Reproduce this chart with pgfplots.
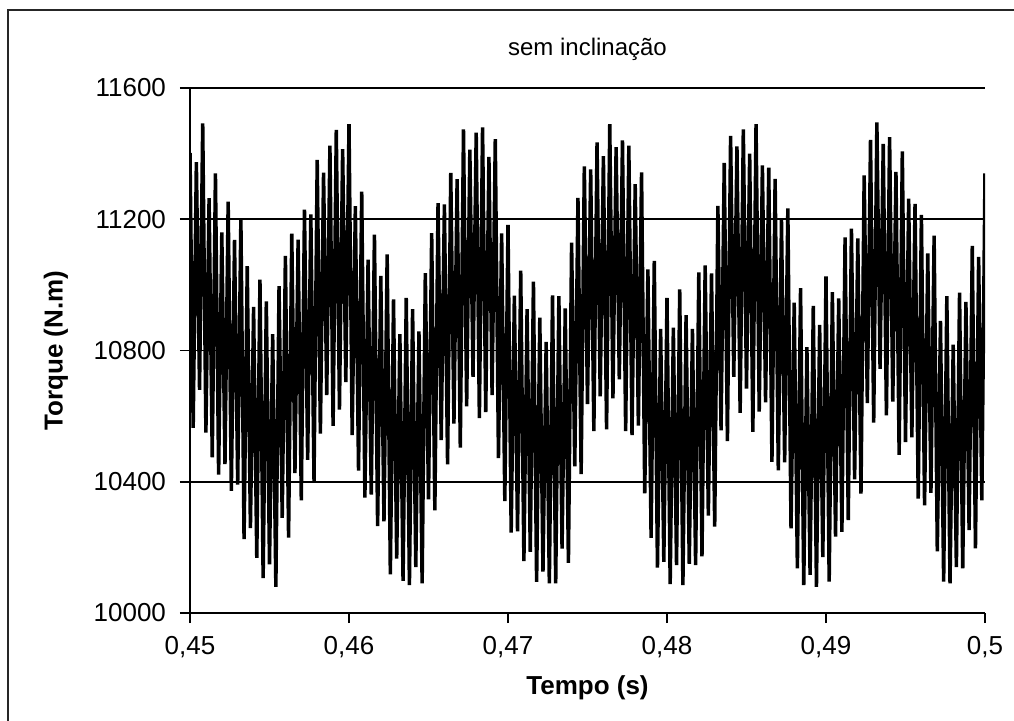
\documentclass[border=0pt]{standalone}
\usepackage{fontspec}
\setmainfont{Liberation Sans}
\usepackage{pgfplots}
\pgfplotsset{compat=1.18}
\begin{document}
\begin{tikzpicture}[x=1pt,y=1pt]
\useasboundingbox (0,0) rectangle (507,360);
\draw[line width=1.4pt, black!85] (4,-10) -- (4,355) -- (520,355);
\begin{axis}[at={(95pt,53.5pt)}, anchor=south west, scale only axis,
 width=397.5pt, height=262.5pt,
 xmin=0.45, xmax=0.5, ymin=10000, ymax=11600,
 xtick={0.45,0.46,0.47,0.48,0.49,0.5},
 ytick={10000,10400,10800,11200,11600},
 axis lines=left, axis line style={-, line width=0.9pt},
 ymajorgrids, major grid style={black, line width=0.9pt},
 tick align=outside, major tick length=5pt, tick style={black, line width=0.8pt},
 scaled ticks=false,
 /pgf/number format/assume math mode=true,
 xticklabel style={/pgf/number format/use comma, /pgf/number format/fixed, /pgf/number format/precision=2, yshift=-3pt},
 yticklabel style={/pgf/number format/1000 sep={}, xshift=-3.5pt},
 ticklabel style={font=\fontsize{13}{15}\selectfont},
 title={\fontsize{12}{14}\selectfont sem inclinação},
 title style={at={(axis description cs:0.5,1.0152)}, anchor=south},
 xlabel={Tempo (s)}, ylabel={Torque (N.m)},
 label style={font=\bfseries\fontsize{13}{15}\selectfont},
 xlabel style={at={(axis description cs:0.5,-0.1429)}, anchor=center},
 ylabel style={at={(axis description cs:-0.1686,0.5)}, anchor=center},
]
\addplot[black, line width=1.75pt, line join=bevel] table {
0.4500 11402
0.4502 10564
0.4504 11374
0.4506 10680
0.4508 11492
0.4510 10550
0.4512 11264
0.4514 10474
0.4516 11340
0.4518 10422
0.4520 11160
0.4522 10454
0.4524 11254
0.4526 10372
0.4528 11137
0.4530 10391
0.4532 11203
0.4534 10225
0.4536 11057
0.4538 10259
0.4540 10933
0.4542 10168
0.4544 11016
0.4546 10106
0.4548 10950
0.4550 10148
0.4552 10850
0.4554 10080
0.4556 10996
0.4558 10290
0.4560 11088
0.4562 10230
0.4564 11156
0.4566 10426
0.4568 11138
0.4570 10343
0.4572 11229
0.4574 10467
0.4576 11215
0.4578 10403
0.4580 11381
0.4582 10547
0.4584 11342
0.4586 10664
0.4588 11424
0.4590 10570
0.4592 11472
0.4594 10620
0.4596 11414
0.4598 10704
0.4600 11490
0.4602 10542
0.4604 11240
0.4606 10434
0.4608 11284
0.4610 10352
0.4612 11077
0.4614 10361
0.4616 11153
0.4618 10265
0.4620 11027
0.4622 10279
0.4624 11093
0.4626 10118
0.4628 10956
0.4630 10166
0.4632 10850
0.4634 10098
0.4636 10960
0.4638 10085
0.4640 10926
0.4642 10140
0.4644 10858
0.4646 10090
0.4648 11036
0.4650 10346
0.4652 11158
0.4654 10313
0.4656 11249
0.4658 10527
0.4660 11245
0.4662 10453
0.4664 11341
0.4666 10577
0.4668 11322
0.4670 10504
0.4672 11474
0.4674 10630
0.4676 11412
0.4678 10720
0.4680 11464
0.4682 10594
0.4684 11480
0.4686 10612
0.4688 11390
0.4690 10664
0.4692 11444
0.4694 10472
0.4696 11157
0.4698 10341
0.4700 11183
0.4702 10245
0.4704 10967
0.4706 10249
0.4708 11043
0.4710 10158
0.4712 10926
0.4714 10186
0.4716 11010
0.4718 10095
0.4720 10900
0.4722 10126
0.4724 10826
0.4726 10090
0.4728 10968
0.4730 10090
0.4732 10966
0.4734 10196
0.4736 10928
0.4738 10153
0.4740 11129
0.4742 10447
0.4744 11265
0.4746 10423
0.4748 11361
0.4750 10637
0.4752 11352
0.4754 10554
0.4756 11434
0.4758 10660
0.4760 11392
0.4762 10560
0.4764 11490
0.4766 10654
0.4768 11420
0.4770 10712
0.4772 11440
0.4774 10554
0.4776 11424
0.4778 10542
0.4780 11307
0.4782 10571
0.4784 11343
0.4786 10365
0.4788 11047
0.4790 10229
0.4792 11073
0.4794 10138
0.4796 10866
0.4798 10156
0.4800 10960
0.4802 10088
0.4804 10870
0.4806 10146
0.4808 10986
0.4810 10085
0.4812 10908
0.4814 10150
0.4816 10866
0.4818 10146
0.4820 11038
0.4822 10173
0.4824 11059
0.4826 10297
0.4828 11035
0.4830 10263
0.4832 11241
0.4834 10557
0.4836 11372
0.4838 10524
0.4840 11454
0.4842 10720
0.4844 11422
0.4846 10610
0.4848 11474
0.4850 10684
0.4852 11400
0.4854 10552
0.4856 11490
0.4858 10614
0.4860 11364
0.4862 10642
0.4864 11357
0.4866 10461
0.4868 11323
0.4870 10435
0.4872 11197
0.4874 10459
0.4876 11233
0.4878 10258
0.4880 10946
0.4882 10136
0.4884 10990
0.4886 10085
0.4888 10810
0.4890 10116
0.4892 10936
0.4894 10080
0.4896 10878
0.4898 10170
0.4900 11026
0.4902 10096
0.4904 10978
0.4906 10233
0.4908 10959
0.4910 10247
0.4912 11145
0.4914 10283
0.4916 11171
0.4918 10407
0.4920 11142
0.4922 10364
0.4924 11334
0.4926 10640
0.4928 11442
0.4930 10580
0.4932 11495
0.4934 10744
0.4936 11430
0.4938 10602
0.4940 11450
0.4942 10644
0.4944 11344
0.4946 10482
0.4948 11407
0.4950 10521
0.4952 11263
0.4954 10535
0.4956 11247
0.4958 10349
0.4960 11213
0.4962 10328
0.4964 11096
0.4966 10366
0.4968 11150
0.4970 10188
0.4972 10890
0.4974 10096
0.4976 10966
0.4978 10090
0.4980 10818
0.4982 10140
0.4984 10976
0.4986 10136
0.4988 10948
0.4990 10253
0.4992 11119
0.4994 10197
0.4996 11085
0.4998 10343
0.5000 11340
};
\end{axis}
\end{tikzpicture}
\end{document}
